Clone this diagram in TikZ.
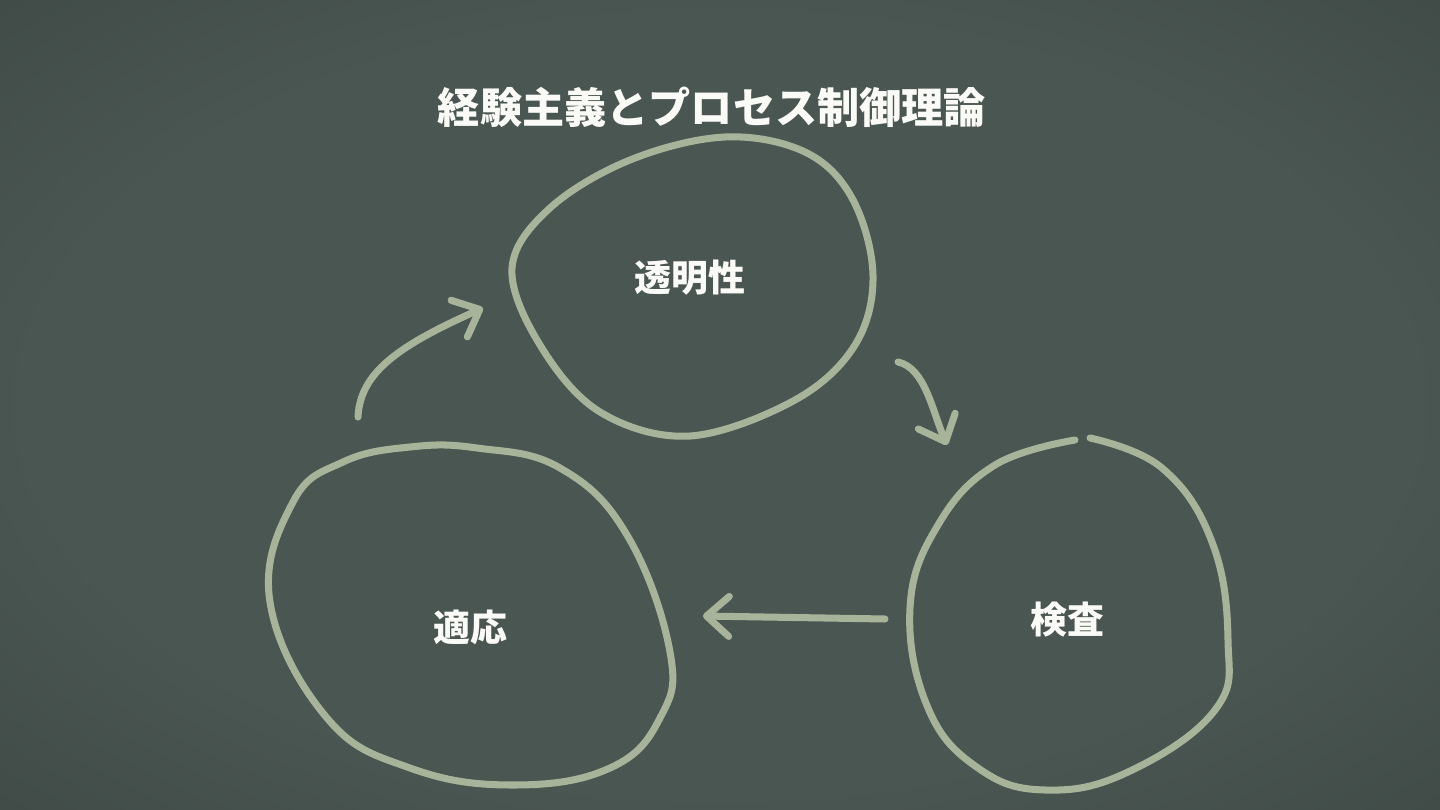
\documentclass[tikz,border=0pt]{standalone}
\usepackage{fontspec}
\usepackage{xcolor}
\usepackage{tikz}
\usetikzlibrary{arrows.meta,positioning}
\newfontfamily\jp{Noto Sans CJK JP}
\definecolor{boardin}{RGB}{74,86,82}
\definecolor{boardout}{RGB}{36,44,41}
\definecolor{chalk}{RGB}{168,180,154}
\definecolor{chalkwhite}{RGB}{250,250,246}
\pgfdeclareradialshading{board}{\pgfpoint{0bp}{0bp}}{color(0bp)=(boardin); color(24bp)=(boardin); color(71bp)=(boardout)}

\begin{document}
\begin{tikzpicture}[x=0.02cm,y=-0.02cm,>={Straight Barb[length=4.5mm,width=8mm,round]},
  font=\jp\bfseries,
  blob/.style={draw=chalk,line width=4pt,line cap=round,line join=round},
  chalkarrow/.style={blob,->},
  label/.style={text=chalkwhite,font=\jp\bfseries\fontsize{21}{25}\selectfont},
  headline/.style={text=chalkwhite,font=\jp\bfseries\fontsize{24}{28}\selectfont}]
  \shade[shading=board] (0,0) rectangle (1440,810);
  \useasboundingbox (0,0) rectangle (1440,810);

  \node[headline] (title) at (712,107) {経験主義とプロセス制御理論};

  \node[label] (trans) at (690,278) {透明性};
  \node[label] (insp) at (1067,620) {検査};
  \node[label] (adapt) at (470,627) {適応};

  \draw[blob] plot[smooth cycle,tension=0.6] coordinates {(725,137) (805,152) (852,198) (873,275) (855,345) (795,400) (690,436) (600,412) (540,345) (512,268) (550,208) (630,160)};
  \draw[blob] plot[smooth cycle,tension=0.7] coordinates {(410,447) (477,448) (560,468) (627,535) (670,652) (660,718) (610,768) (513,785) (410,768) (327,718) (270,602) (293,502) (343,462)};
  \draw[blob] plot[smooth,tension=0.7] coordinates {(1090,438) (1162,468) (1212,542) (1228,640) (1215,710) (1128,772) (1045,790) (978,768) (928,708) (910,608) (938,525) (995,465) (1075,440)};

  \coordinate (upS) at (358,417);
  \coordinate (upE) at (483,308);
  \coordinate (downS) at (898,362);
  \coordinate (downE) at (947,445);
  \coordinate (leftS) at (885,619);
  \coordinate (leftE) at (703,616);
  \draw[chalkarrow] (upS) .. controls (360,372) and (400,345) .. (upE);
  \draw[chalkarrow] (downS) .. controls (925,368) and (932,410) .. (downE);
  \draw[chalkarrow] (leftS) -- (leftE);
\end{tikzpicture}
\end{document}
